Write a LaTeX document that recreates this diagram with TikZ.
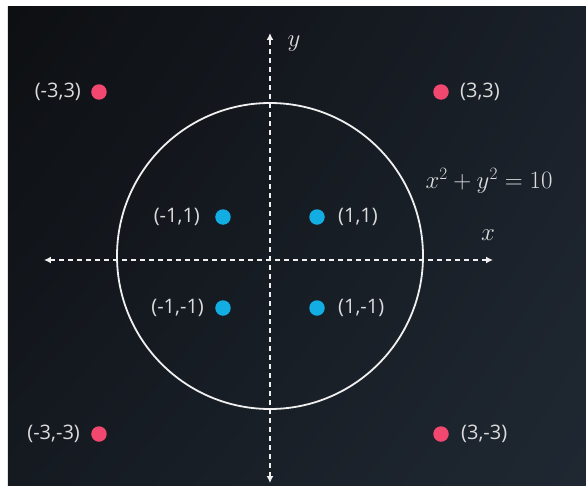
\documentclass[tikz,border=0pt]{standalone}
\usepackage[no-math]{fontspec}
\newfontfamily\pointfont{Open Sans}
\usetikzlibrary{positioning,arrows.meta,shadings}
\definecolor{BgDark}{HTML}{0D0F12}
\definecolor{BgTopRight}{HTML}{1A2029}
\definecolor{BgBotLeft}{HTML}{151A21}
\definecolor{BgLight}{HTML}{1F2832}
\definecolor{PointRed}{HTML}{F2476F}
\definecolor{PointBlue}{HTML}{12ADE3}
\definecolor{LabelGray}{HTML}{DCDCDC}
\definecolor{LineWhite}{HTML}{F0F0F0}

\begin{document}
\begin{tikzpicture}[x=1pt,y=1pt,
    ptred/.style={circle, fill=PointRed, inner sep=0pt, minimum size=15.5pt},
    ptblue/.style={circle, fill=PointBlue, inner sep=0pt, minimum size=15.5pt},
    ptlabel/.style={font=\pointfont\fontsize{20}{24}\selectfont, text=LabelGray, inner sep=0pt},
    axisline/.style={LineWhite, line width=1.4pt, dash pattern=on 5pt off 4pt,
      {Latex[length=7pt,width=7pt]}-{Latex[length=7pt,width=7pt]}}]

  % frame and background
  \fill[white] (-270,-225) rectangle (316,260);
  \shade[upper left=BgDark, upper right=BgTopRight, lower left=BgBotLeft, lower right=BgLight]
    (-262,-225) rectangle (316,253);
  \useasboundingbox (-270,-225) rectangle (316,260);

  % axes
  \coordinate (xneg) at (-226,0);
  \coordinate (xpos) at (223,0);
  \coordinate (yneg) at (0,-223);
  \coordinate (ypos) at (0,227);
  \draw[axisline] (xneg) -- (xpos);
  \draw[axisline] (yneg) -- (ypos);

  \node[font=\fontsize{32}{36}\selectfont, text=LabelGray] (xlab) at (218,25) {$x$};
  \node[font=\fontsize{32}{36}\selectfont, text=LabelGray] (ylab) at (24,216) {$y$};

  % circle x^2+y^2=10
  \coordinate (ringc) at (0,4);
  \draw[LineWhite, line width=1.8pt] (ringc) circle[radius=153pt];
  \node[font=\fontsize{25}{29}\selectfont, text=LabelGray] (eqn) at (219,79) {$x^2+y^2=10$};

  % outer points
  \node[ptred] (r1) at (-171,168) {};
  \node[ptred] (r2) at (171,168) {};
  \node[ptred] (r3) at (-171,-174) {};
  \node[ptred] (r4) at (171,-174) {};

  \node[ptlabel, left=10pt of r1] (lr1) {(-3,3)};
  \node[ptlabel, right=11pt of r2] (lr2) {(3,3)};
  \node[ptlabel, left=11pt of r3] (lr3) {(-3,-3)};
  \node[ptlabel, right=12pt of r4] (lr4) {(3,-3)};

  % inner points
  \node[ptblue] (b1) at (-47,43) {};
  \node[ptblue] (b2) at (47,43) {};
  \node[ptblue] (b3) at (-47,-48) {};
  \node[ptblue] (b4) at (47,-48) {};

  \node[ptlabel, left=15pt of b1] (lb1) {(-1,1)};
  \node[ptlabel, right=13pt of b2] (lb2) {(1,1)};
  \node[ptlabel, left=11pt of b3] (lb3) {(-1,-1)};
  \node[ptlabel, right=13pt of b4] (lb4) {(1,-1)};
\end{tikzpicture}
\end{document}
